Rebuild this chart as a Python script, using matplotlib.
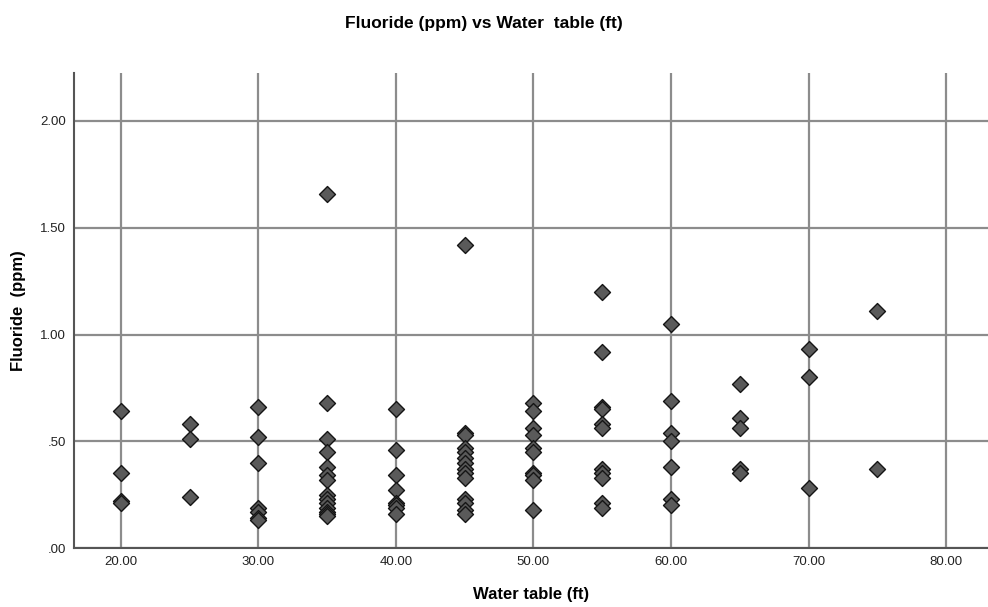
import matplotlib.pyplot as plt

# water table depth (ft) and fluoride (ppm), one list per depth group
depths = [20, 25, 30, 35, 40, 45, 50, 55, 60, 65, 70, 75]
fluoride = [
    [0.64, 0.35, 0.22, 0.21],
    [0.58, 0.51, 0.24],
    [0.66, 0.52, 0.40, 0.19, 0.17, 0.14, 0.13],
    [1.66, 0.68, 0.51, 0.45, 0.38, 0.34, 0.32, 0.25, 0.23, 0.21, 0.19, 0.17, 0.16, 0.15],
    [0.65, 0.46, 0.34, 0.27, 0.21, 0.20, 0.19, 0.16],
    [1.42, 0.54, 0.53, 0.47, 0.45, 0.42, 0.40, 0.37, 0.35, 0.33, 0.23, 0.21, 0.18, 0.16],
    [0.68, 0.64, 0.56, 0.53, 0.47, 0.45, 0.35, 0.34, 0.32, 0.18],
    [1.20, 0.92, 0.66, 0.65, 0.58, 0.56, 0.37, 0.35, 0.33, 0.21, 0.19],
    [1.05, 0.69, 0.54, 0.50, 0.38, 0.23, 0.20],
    [0.77, 0.61, 0.56, 0.37, 0.35],
    [0.93, 0.80, 0.28],
    [1.11, 0.37],
]
xticks = [20, 30, 40, 50, 60, 70, 80]
xtick_labels = ['20.00', '30.00', '40.00', '50.00', '60.00', '70.00', '80.00']
yticks = [0, 0.5, 1.0, 1.5, 2.0]
ytick_labels = ['.00', '.50', '1.00', '1.50', '2.00']

xs = []
ys = []
for d, vals in zip(depths, fluoride):
    xs += [d] * len(vals)
    ys += vals

plt.rcParams['font.family'] = ['Liberation Sans', 'DejaVu Sans']

fig = plt.figure(figsize=(9.88, 6.07), dpi=100)
ax = fig.add_axes([0.075, 0.097, 0.925, 0.783])

ax.set_xlim(16.6, 83.05)
ax.set_ylim(0, 2.225)
ax.set_xticks(xticks)
ax.set_xticklabels(xtick_labels)
ax.set_yticks(yticks)
ax.set_yticklabels(ytick_labels)
ax.tick_params(length=0, labelsize=9.5, colors='#222222', pad=6)
ax.grid(True, color='#8c8c8c', linewidth=1.6)
ax.set_axisbelow(True)

for side in ['top', 'right']:
    ax.spines[side].set_visible(False)
for side in ['left', 'bottom']:
    ax.spines[side].set_color('#555555')
    ax.spines[side].set_linewidth(1.5)

ax.scatter(xs, ys, marker='D', s=66, color='#5a5a5a', edgecolors='#151515',
           linewidths=1.0, zorder=3)

ax.set_xlabel('Water table (ft)', fontsize=12, fontweight='bold', labelpad=13)
ax.set_ylabel('Fluoride  (ppm)', fontsize=12, fontweight='bold', labelpad=10)
fig.text(0.49, 0.962, 'Fluoride (ppm) vs Water  table (ft)', ha='center', va='center',
         fontsize=12.5, fontweight='bold')

fig.savefig('out.png', dpi=100)
